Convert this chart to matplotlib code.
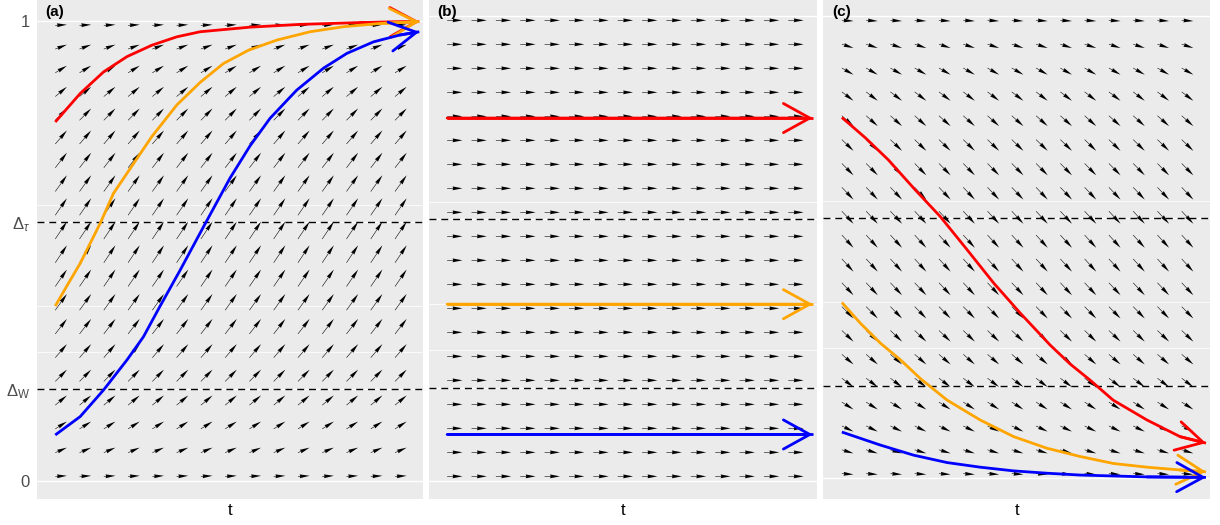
import matplotlib.pyplot as plt
import numpy as np
from matplotlib.patches import FancyArrowPatch

plt.rcParams['font.family'] = ['Liberation Sans', 'DejaVu Sans']
plt.rcParams['mathtext.fontset'] = 'custom'
plt.rcParams['mathtext.rm'] = 'Liberation Sans'
plt.rcParams['mathtext.it'] = 'Liberation Sans:italic'

# thresholds and y axis breaks (given unsorted, minor lines sit between neighbours)
delta_w = 0.2
delta_tau = 0.5625
y_breaks = [0, delta_tau, delta_w, 1]
y_labels = ['0', r'$\Delta_{\tau}$', r'$\Delta_{\mathrm{W}}$', '1']
minor_breaks = [0.28125, 0.38125, 0.6]

# direction field grid: 15 time steps, 20 levels
field_t = np.arange(15) / 15
field_y = np.linspace(0.01, 0.99, 20)

# slope dy/dt of the field on each level (bottom to top)
slope_a = [0.04, 0.34, 0.50, 0.66, 0.80, 0.92, 1.02, 1.10, 1.15, 1.18,
           1.18, 1.15, 1.10, 1.02, 0.92, 0.80, 0.66, 0.48, 0.30, 0.04]
slope_b = [0.0] * 20
slope_c = [-0.05, -0.24, -0.38, -0.50, -0.60, -0.68, -0.75, -0.80, -0.84, -0.86,
           -0.86, -0.85, -0.83, -0.80, -0.76, -0.70, -0.60, -0.45, -0.26, -0.05]

# trajectories (t, y)
red_a_t = [0, 0.0686, 0.133, 0.197, 0.266, 0.334, 0.398, 0.535, 0.673, 0.837, 1.0]
red_a_y = [0.78, 0.842, 0.889, 0.922, 0.947, 0.965, 0.976, 0.986, 0.992, 0.996, 0.998]
orange_a_t = [0, 0.035, 0.0686, 0.1235, 0.160, 0.206, 0.265, 0.334, 0.398, 0.462, 0.531,
              0.609, 0.700, 0.792, 0.892, 1.0]
orange_a_y = [0.38, 0.428, 0.473, 0.560, 0.625, 0.679, 0.748, 0.817, 0.866, 0.907, 0.936,
              0.958, 0.976, 0.987, 0.994, 0.998]
blue_a_t = [0, 0.0686, 0.133, 0.197, 0.242, 0.288, 0.343, 0.407, 0.480, 0.535,
            0.590, 0.663, 0.737, 0.801, 0.874, 0.947, 1.0]
blue_a_y = [0.10, 0.140, 0.198, 0.263, 0.313, 0.380, 0.458, 0.552, 0.658, 0.728,
            0.788, 0.849, 0.897, 0.929, 0.954, 0.969, 0.976]

flat_t = [0, 1.0]
red_b_y = [0.78, 0.78]
orange_b_y = [0.38, 0.38]
blue_b_y = [0.10, 0.10]

red_c_t = [0, 0.0645, 0.128, 0.202, 0.270, 0.344, 0.417, 0.490, 0.572, 0.627,
           0.682, 0.745, 0.838, 0.929, 1.0]
red_c_y = [0.78, 0.736, 0.688, 0.623, 0.566, 0.494, 0.422, 0.357, 0.288, 0.247,
           0.212, 0.169, 0.126, 0.090, 0.076]
orange_c_t = [0, 0.051, 0.106, 0.161, 0.215, 0.289, 0.380, 0.472, 0.563, 0.655,
              0.746, 0.838, 0.929, 1.0]
orange_c_y = [0.38, 0.335, 0.292, 0.256, 0.216, 0.169, 0.126, 0.090, 0.065, 0.047,
              0.032, 0.024, 0.018, 0.014]
blue_c_t = [0, 0.105, 0.197, 0.289, 0.380, 0.472, 0.563, 0.655, 0.746, 0.838, 1.0]
blue_c_y = [0.10, 0.072, 0.050, 0.034, 0.024, 0.016, 0.011, 0.007, 0.005, 0.003, 0.002]

panels = [
    dict(tag='(a)', slope=slope_a, dt=0.032, ylim=(-0.0398, 1.045),
         lines=[(red_a_t, red_a_y, '#FF0000'), (orange_a_t, orange_a_y, '#FFA500'),
                (blue_a_t, blue_a_y, '#0000FF')]),
    dict(tag='(b)', slope=slope_b, dt=0.042, ylim=(-0.0393, 1.0337),
         lines=[(flat_t, red_b_y, '#FF0000'), (flat_t, orange_b_y, '#FFA500'),
                (flat_t, blue_b_y, '#0000FF')]),
    dict(tag='(c)', slope=slope_c, dt=0.032, ylim=(-0.0454, 1.0339),
         lines=[(red_c_t, red_c_y, '#FF0000'), (orange_c_t, orange_c_y, '#FFA500'),
                (blue_c_t, blue_c_y, '#0000FF')]),
]

fig = plt.figure(figsize=(12.2, 5.25), dpi=100)
lefts = [36.7, 428.5, 823.3]
widths = [386.6, 388.2, 386.7]

for i, p in enumerate(panels):
    ax = fig.add_axes([lefts[i] / 1220, 25.7 / 525, widths[i] / 1220, 499.3 / 525])
    ax.set_facecolor('#EBEBEB')
    for s in ax.spines.values():
        s.set_visible(False)
    ax.set_xlim(-0.051, 1.011)
    ax.set_ylim(*p['ylim'])

    # grid
    for yb in y_breaks:
        ax.axhline(yb, color='white', lw=1.0, zorder=0.5)
    for yb in minor_breaks:
        ax.axhline(yb, color='white', lw=0.55, zorder=0.5)

    # direction field
    T, Y = np.meshgrid(field_t, field_y)
    S = np.repeat(np.array(p['slope'])[:, None], len(field_t), axis=1)
    U = np.full_like(T, p['dt'])
    V = U * S
    ax.quiver(T, Y, U, V, angles='xy', scale_units='xy', scale=1, units='dots',
              width=0.55, headwidth=7, headlength=18, headaxislength=17,
              color='black', zorder=2)

    # thresholds
    for d in (delta_tau, delta_w):
        ax.axhline(d, color='black', lw=1.0, ls=(0, (5, 3.5)), zorder=3)

    # trajectories with open arrow heads
    for tt, yy, col in p['lines']:
        ax.plot(tt, yy, color=col, lw=2.0, solid_capstyle='butt', zorder=4)
        ax.add_patch(FancyArrowPatch((tt[-2], yy[-2]), (tt[-1], yy[-1]),
                                     arrowstyle='->,head_length=19,head_width=10.5',
                                     mutation_scale=1, lw=2.0, color=col,
                                     shrinkA=0, shrinkB=0, zorder=4))

    ax.annotate(p['tag'], xy=(0, 1), xycoords='axes fraction', xytext=(9, -12),
                textcoords='offset pixels', fontsize=11, fontweight='bold',
                ha='left', va='center')

    ax.set_xticks([])
    ax.set_xlabel('t', fontsize=12, labelpad=3)
    ax.set_yticks(y_breaks)
    if i == 0:
        ax.set_yticklabels(y_labels, fontsize=12, color='#4D4D4D')
        ax.tick_params(axis='y', length=0, pad=5)
    else:
        ax.tick_params(axis='y', length=0, labelleft=False)

fig.savefig('out.png', dpi=100)
